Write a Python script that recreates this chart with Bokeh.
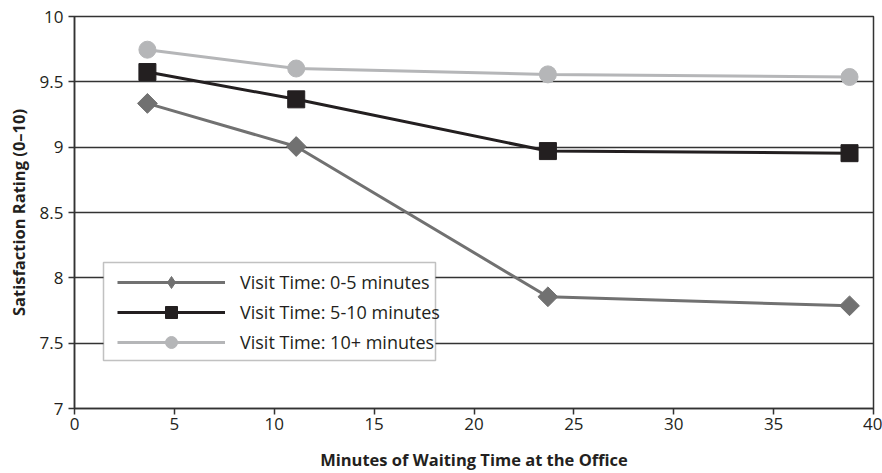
import math
from bokeh.plotting import figure
from bokeh.models import FixedTicker, Legend, LegendItem, BoxAnnotation
from bokeh.embed import file_html
from bokeh.resources import INLINE

# ---- data ----
wait_minutes = [3.65, 11.1, 23.7, 38.8]
visit_0_5 = [9.335, 9.005, 7.855, 7.786]
visit_5_10 = [9.575, 9.366, 8.970, 8.954]
visit_10_plus = [9.746, 9.602, 9.557, 9.537]
series_labels = ["Visit Time: 0-5 minutes", "Visit Time: 5-10 minutes", "Visit Time: 10+ minutes"]

x_ticks = [0, 5, 10, 15, 20, 25, 30, 35, 40]
y_ticks = [7, 7.5, 8, 8.5, 9, 9.5, 10]
y_tick_labels = ["7", "7.5", "8", "8.5", "9", "9.5", "10"]

FONT = "Open Sans"
DARK = "#333333"
TEXT = "#231f20"

p = figure(width=882, height=473, output_backend="svg", toolbar_location=None,
           x_range=(0, 40), y_range=(7, 10),
           min_border_left=74, min_border_right=9, min_border_top=16, min_border_bottom=64)
p.background_fill_color = "white"
p.border_fill_color = "white"
p.outline_line_color = DARK
p.outline_line_width = 1.5

# axes
p.xaxis.ticker = FixedTicker(ticks=x_ticks)
p.yaxis.ticker = FixedTicker(ticks=y_ticks)
p.yaxis.major_label_overrides = {t: l for t, l in zip(y_ticks, y_tick_labels)}
for ax in (p.xaxis, p.yaxis):
    ax.axis_line_color = DARK
    ax.axis_line_width = 1.5
    ax.major_tick_line_color = DARK
    ax.major_tick_line_width = 1.5
    ax.major_tick_out = 6
    ax.major_tick_in = 0
    ax.minor_tick_line_color = None
    ax.major_label_text_font = FONT
    ax.major_label_text_font_size = "17px"
    ax.major_label_text_color = TEXT
    ax.axis_label_text_font = FONT
    ax.axis_label_text_font_size = "16.5px"
    ax.axis_label_text_font_style = "bold"
    ax.axis_label_text_color = TEXT
p.xaxis.major_label_standoff = 3
p.yaxis.major_label_standoff = 5
p.xaxis.axis_label = "Minutes of Waiting Time at the Office"
p.yaxis.axis_label = "Satisfaction Rating (0\u201310)"
p.xaxis.axis_label_standoff = 15
p.yaxis.axis_label_standoff = 7

p.xgrid.grid_line_color = None
p.ygrid.ticker = FixedTicker(ticks=y_ticks)
p.ygrid.grid_line_color = DARK
p.ygrid.grid_line_width = 1.5

c1, c2, c3 = "#717171", "#231f20", "#b5b6b8"

# legend-only glyph: a tiny diamond hidden under the real (rotated square) markers,
# because the rotation angle of a marker is not applied when drawn in a legend
k1 = p.scatter(wait_minutes, visit_0_5, marker="diamond", size=1, fill_color=c1, line_color=c1)

l1 = p.line(wait_minutes, visit_0_5, line_color=c1, line_width=3)
m1 = p.scatter(wait_minutes, visit_0_5, marker="square", angle=math.pi / 4, size=14,
               fill_color=c1, line_color=c1)
l2 = p.line(wait_minutes, visit_5_10, line_color=c2, line_width=3)
m2 = p.scatter(wait_minutes, visit_5_10, marker="square", size=17, fill_color=c2, line_color=c2)
l3 = p.line(wait_minutes, visit_10_plus, line_color=c3, line_width=3)
m3 = p.scatter(wait_minutes, visit_10_plus, marker="circle", size=17, fill_color=c3, line_color=c3)

box = BoxAnnotation(left=29, right=361, top=146, bottom=48,
                    left_units="screen", right_units="screen", top_units="screen", bottom_units="screen",
                    fill_color="white", fill_alpha=1.0, line_color=DARK, line_width=1.5)
p.add_layout(box)

legend = Legend(items=[LegendItem(label=series_labels[0], renderers=[l1, k1]),
                       LegendItem(label=series_labels[1], renderers=[l2, m2]),
                       LegendItem(label=series_labels[2], renderers=[l3, m3])],
                location=(43, 51), padding=0, spacing=0, glyph_width=108, glyph_height=30,
                label_standoff=15, label_text_font=FONT, label_text_font_size="18px",
                label_text_color=TEXT, background_fill_alpha=0, border_line_alpha=0,
                margin=0)
p.add_layout(legend)

open("out.html", "w").write(file_html(p, INLINE))
